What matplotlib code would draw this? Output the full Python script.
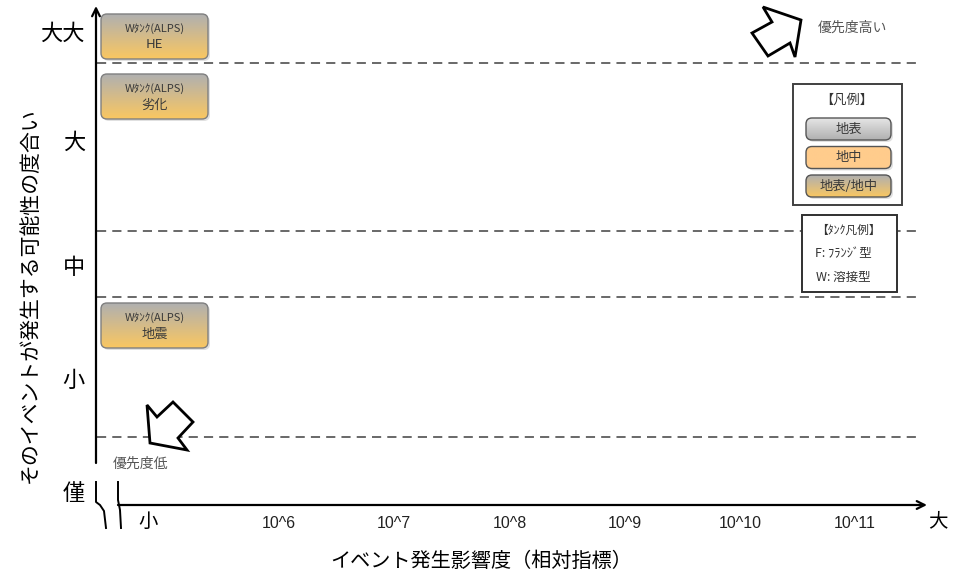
import numpy as np
import matplotlib.pyplot as plt
from matplotlib.patches import FancyBboxPatch, Polygon, Rectangle

plt.rcParams['font.family'] = ['Noto Sans CJK JP', 'DejaVu Sans']

# chart content
levels = ['僅', '小', '中', '大', '大大']
exponents = [6, 7, 8, 9, 10, 11]
x_labels = ['10^%d' % e for e in exponents]
x_ends = ['小', '大']
y_title = 'そのイベントが発生する可能性の度合い'
x_title = 'イベント発生影響度（相対指標）'
tank = 'Wﾀﾝｸ(ALPS)'
events = ['HE', '劣化', '地震']
legend_items = ['地表', '地中', '地表/地中']
tank_legend = ['【ﾀﾝｸ凡例】', 'F: ﾌﾗﾝｼﾞ型', 'W: 溶接型']

# layout (pixels of the 957x584 canvas)
level_y = [493, 380, 268, 142, 33]
band_y = [63, 231, 297, 437]
event_box_y = [14, 74, 303]

GRAY = (0.69, 0.69, 0.69)
LGRAY = (0.90, 0.90, 0.90)
ORANGE = (0.98, 0.78, 0.38)
LORANGE = (1.0, 0.80, 0.55)


def exp_x(e):
    return 279 + (e - 6) * 115.2


def grad_box(ax, x, y, w, h, top, bottom, lines, sizes, offsets, edge='#7f7f7f'):
    n = 64
    t = np.linspace(0, 1, n)[:, None, None]
    img = (1 - t) * np.array(top)[None, None, :] + t * np.array(bottom)[None, None, :]
    sh = FancyBboxPatch((x + 2, y + 2), w, h, boxstyle='round,pad=0,rounding_size=6',
                        fc=(0, 0, 0, 0.12), ec='none', zorder=2)
    ax.add_patch(sh)
    patch = FancyBboxPatch((x, y), w, h, boxstyle='round,pad=0,rounding_size=6',
                           fc='none', ec=edge, lw=1.0, zorder=4)
    ax.add_patch(patch)
    im = ax.imshow(img, extent=[x, x + w, y + h, y], origin='upper', aspect='auto',
                   interpolation='bilinear', zorder=3)
    im.set_clip_path(patch)
    for s, fs, dy in zip(lines, sizes, offsets):
        ax.text(x + w / 2, y + dy, s, ha='center', va='center', fontsize=fs,
                color='#3a3a3a', zorder=5)


fig = plt.figure(figsize=(9.57, 5.84), dpi=100)
ax = fig.add_axes([0, 0, 1, 1])
ax.set_xlim(0, 957)
ax.set_ylim(584, 0)
ax.axis('off')

# dashed band borders
for y in band_y:
    ax.plot([97, 918], [y, y], color='#404040', lw=1.1, ls=(0, (6, 4)), zorder=1)

# axes with arrows and the break near the origin
ax.annotate('', xy=(96, 6), xytext=(96, 463),
            arrowprops=dict(arrowstyle='->', lw=1.6, color='black',
                            shrinkA=0, shrinkB=0, mutation_scale=14))
ax.plot([96, 96, 100, 104, 106], [482, 502, 505, 511, 528], color='black', lw=1.4)
ax.plot([118, 118, 120, 121], [482, 500, 510, 528], color='black', lw=1.4)
ax.annotate('', xy=(927, 505), xytext=(118, 505),
            arrowprops=dict(arrowstyle='->', lw=1.6, color='black',
                            shrinkA=0, shrinkB=0, mutation_scale=14))

# tick labels
for lab, y in zip(levels, level_y):
    ax.text(85, y, lab, ha='right', va='center', fontsize=16)
for e, lab in zip(exponents, x_labels):
    ax.text(exp_x(e), 524, lab, ha='center', va='center', fontsize=11.5,
            color='#222222', family=['Liberation Sans', 'DejaVu Sans'])
ax.text(148, 521, x_ends[0], ha='center', va='center', fontsize=14)
ax.text(938, 521, x_ends[1], ha='center', va='center', fontsize=14)

ax.text(30, 295, y_title, rotation=90, ha='center', va='center', fontsize=15)
ax.text(481, 561, x_title, ha='center', va='center', fontsize=14.5)

# event boxes
for ev, y in zip(events, event_box_y):
    grad_box(ax, 101, y, 107, 45, GRAY, ORANGE, [tank, ev], [8, 9.5], [15, 31])

# legend
ax.add_patch(Rectangle((793, 84), 109, 121, fc='white', ec='#404040', lw=1.4, zorder=2))
ax.text(847, 100, '【凡例】', ha='center', va='center', fontsize=9.5, color='#333333', zorder=5)
leg_cols = [(LGRAY, GRAY), (LORANGE, LORANGE), (GRAY, ORANGE)]
for i, (item, (c1, c2)) in enumerate(zip(legend_items, leg_cols)):
    grad_box(ax, 806, 118 + i * 28.5, 85, 22, c1, c2, [item], [9.5], [11], edge='#555555')

ax.add_patch(Rectangle((802, 215), 95, 77, fc='white', ec='#303030', lw=1.4, zorder=2))
for i, s in enumerate(tank_legend):
    ax.text(848 if i == 0 else 843, 230 + i * 23.5, s, ha='center', va='center',
            fontsize=8.5 if i == 0 else 9, color='#333333', zorder=5)

# priority arrows
up_arrow = [(763, 7), (801, 20), (795, 57), (790, 43), (768, 56), (752, 33), (772, 22)]
down_arrow = [(150, 443), (147, 405), (157, 417), (173, 402), (193, 422), (178, 438), (187, 450)]
ax.add_patch(Polygon(up_arrow, closed=True, fc='white', ec='black', lw=2, zorder=3))
ax.add_patch(Polygon(down_arrow, closed=True, fc='white', ec='black', lw=2, zorder=3))
ax.text(852, 28, '優先度高い', ha='center', va='center', fontsize=10, color='#555555')
ax.text(140, 464, '優先度低', ha='center', va='center', fontsize=10, color='#555555')

ax.set_xlim(0, 957)
ax.set_ylim(584, 0)
fig.savefig('out.png', dpi=100)
